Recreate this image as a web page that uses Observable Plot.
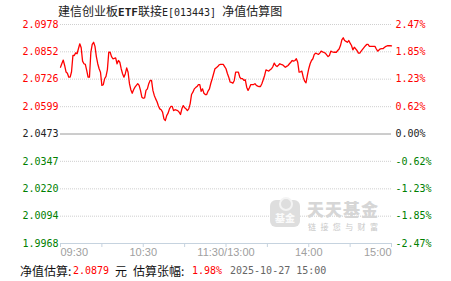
<!DOCTYPE html>
<html>
<head>
<meta charset="utf-8">
<script src="https://cdn.jsdelivr.net/npm/d3@7"></script>
<script src="https://cdn.jsdelivr.net/npm/@observablehq/plot@0.6"></script>
<style>
  html, body { margin: 0; padding: 0; background: #fff; }
  #wrap { position: relative; width: 451px; height: 281px; overflow: hidden; background: #fff; }
  #chart { position: absolute; left: 0; top: 0; }
  .cjk { font-family: "Noto Sans CJK SC", sans-serif; font-size: 12px; }
  .mono { font-family: "DejaVu Sans Mono", monospace; font-size: 10px; }
  #title { position: absolute; left: 58px; top: 4px; line-height: 14px; color: #222; white-space: nowrap; }
  #footer { position: absolute; left: 0; top: 264px; width: 451px; height: 14px; color: #111; }
  #footer span { position: absolute; top: 0; line-height: 14px; white-space: nowrap; }
  .red { color: #ff0000; }
  .gray { color: #666; }
  #wm { position: absolute; left: 270px; top: 199px; width: 120px; height: 34px; pointer-events: none; }
  #wm .icon { position: absolute; left: 0; top: 1px; width: 30px; height: 27px; border-radius: 6px; background: #dedede; }
  #wm .icon .ring { position: absolute; left: 9px; top: -3px; width: 10px; height: 10px; border-radius: 50%; border: 2px solid #f4f4f4; background: #dedede; }
  #wm .icon .t { position: absolute; left: 0; width: 30px; top: 12px; text-align: center; font-family: "Noto Sans CJK SC", sans-serif; font-weight: 900; font-size: 10px; line-height: 12px; color: #fafafa; }
  #wm .big { position: absolute; left: 37px; top: 0.5px; font-family: "Noto Sans CJK SC", serif; font-weight: 900; font-size: 17px; line-height: 17px; color: #d6d6d6; letter-spacing: 1px; white-space: nowrap; }
  #wm .small { position: absolute; left: 38px; top: 23px; font-family: "Noto Sans CJK SC", sans-serif; font-size: 8px; line-height: 9px; color: #c8c8c8; letter-spacing: 4.4px; white-space: nowrap; }
</style>
</head>
<body>
<div id="wrap">
  <div id="chart"></div>
  <div id="title"><span class="cjk">建信创业板</span><span class="mono" style="font-size:11px;font-weight:bold">ETF</span><span class="cjk">联接</span><span class="mono">E[013443] </span><span class="cjk">净值估算图</span></div>
  <div id="wm"><div class="icon"><div class="ring"></div><div class="t">基金</div></div><div class="big">天天基金</div><div class="small">链接您与财富</div></div>
  <div id="footer">
    <span class="cjk" style="left:20px">净值估算:</span>
    <span class="mono red" style="left:73px">2.0879</span>
    <span class="cjk" style="left:115px">元</span>
    <span class="cjk" style="left:133px">估算张幅:</span>
    <span class="mono red" style="left:192px">1.98%</span>
    <span class="mono gray" style="left:230px">2025-10-27 15:00</span>
  </div>
</div>
<script>
// Estimated NAV, one value per trading minute (index 0 = 09:30, 120 = 11:30/13:00, 240 = 15:00)
const navValues = [
  2.0781, 2.0798, 2.0814, 2.0789, 2.0759, 2.0753, 2.0735, 2.0735, 2.0760, 2.0835,
  2.0835, 2.0847, 2.0843, 2.0866, 2.0889, 2.0871, 2.0809, 2.0797, 2.0794, 2.0766,
  2.0735, 2.0735, 2.0849, 2.0886, 2.0896, 2.0877, 2.0830, 2.0797, 2.0774, 2.0758,
  2.0697, 2.0700, 2.0728, 2.0739, 2.0770, 2.0850, 2.0850, 2.0830, 2.0820, 2.0822,
  2.0824, 2.0797, 2.0812, 2.0804, 2.0774, 2.0751, 2.0735, 2.0751, 2.0778, 2.0758,
  2.0705, 2.0677, 2.0661, 2.0677, 2.0689, 2.0697, 2.0705, 2.0697, 2.0674, 2.0643,
  2.0638, 2.0640, 2.0674, 2.0681, 2.0705, 2.0720, 2.0720, 2.0674, 2.0651, 2.0635,
  2.0622, 2.0602, 2.0589, 2.0585, 2.0574, 2.0543, 2.0535, 2.0558, 2.0569, 2.0589,
  2.0600, 2.0600, 2.0581, 2.0585, 2.0583, 2.0581, 2.0574, 2.0563, 2.0589, 2.0604,
  2.0594, 2.0589, 2.0581, 2.0589, 2.0612, 2.0655, 2.0666, 2.0681, 2.0687, 2.0692,
  2.0701, 2.0701, 2.0670, 2.0681, 2.0661, 2.0655, 2.0655, 2.0671, 2.0681, 2.0707,
  2.0728, 2.0751, 2.0774, 2.0779, 2.0784, 2.0792, 2.0794, 2.0794, 2.0794, 2.0784,
  2.0774, 2.0752, 2.0735, 2.0712, 2.0711, 2.0707, 2.0720, 2.0758, 2.0758, 2.0758,
  2.0735, 2.0728, 2.0728, 2.0720, 2.0723, 2.0689, 2.0674, 2.0686, 2.0701, 2.0701,
  2.0701, 2.0705, 2.0697, 2.0694, 2.0692, 2.0692, 2.0705, 2.0723, 2.0743, 2.0769,
  2.0766, 2.0763, 2.0769, 2.0774, 2.0784, 2.0800, 2.0789, 2.0784, 2.0790, 2.0797,
  2.0794, 2.0792, 2.0787, 2.0781, 2.0785, 2.0789, 2.0797, 2.0804, 2.0812, 2.0809,
  2.0812, 2.0820, 2.0804, 2.0758, 2.0760, 2.0763, 2.0735, 2.0717, 2.0709, 2.0743,
  2.0774, 2.0797, 2.0812, 2.0820, 2.0840, 2.0846, 2.0843, 2.0840, 2.0846, 2.0855,
  2.0852, 2.0849, 2.0846, 2.0838, 2.0830, 2.0835, 2.0855, 2.0852, 2.0850, 2.0850,
  2.0850, 2.0858, 2.0865, 2.0881, 2.0907, 2.0917, 2.0904, 2.0900, 2.0896, 2.0904,
  2.0892, 2.0881, 2.0861, 2.0873, 2.0866, 2.0858, 2.0846, 2.0846, 2.0855, 2.0863,
  2.0871, 2.0879, 2.0886, 2.0886, 2.0877, 2.0877, 2.0877, 2.0877, 2.0877, 2.0865,
  2.0855, 2.0861, 2.0866, 2.0867, 2.0867, 2.0873, 2.0877, 2.0880, 2.0880, 2.0880,
  2.0879
];
const baseNav = 2.0473;
const leftTickValues = [2.0978, 2.0852, 2.0726, 2.0599, 2.0473, 2.0347, 2.0220, 2.0094, 1.9968];
const leftTickLabels = ["2.0978", "2.0852", "2.0726", "2.0599", "2.0473", "2.0347", "2.0220", "2.0094", "1.9968"];
const rightTickLabels = ["2.47%", "1.85%", "1.23%", "0.62%", "0.00%", "-0.62%", "-1.23%", "-1.85%", "-2.47%"];
const timeTickMinutes = [0, 30, 60, 90, 120, 150, 180, 210, 240];
const timeLabelMinutes = [0, 60, 120, 180, 240];
const timeLabels = ["09:30", "10:30", "11:30/13:00", "14:00", "15:00"];

const series = navValues.map((v, i) => ({m: i, nav: v}));
const ticks = leftTickValues.map((v, i) => ({
  v, left: leftTickLabels[i], right: rightTickLabels[i],
  color: v > baseNav ? "#ff0000" : v < baseNav ? "#008000" : "#222222"
}));
const yMin = leftTickValues[leftTickValues.length - 1];
const yMax = leftTickValues[0];
const gridTicks = ticks.filter(t => t.v !== baseNav && t.v !== yMin);
const tl = timeLabelMinutes.map((m, i) => ({m, label: timeLabels[i]}));

const chart = Plot.plot({
  width: 451,
  height: 281,
  marginTop: 24,
  marginBottom: 38,
  marginLeft: 60,
  marginRight: 60,
  style: {background: "transparent", overflow: "visible"},
  x: {domain: [0, 240], axis: null},
  y: {domain: [yMin, yMax], axis: null},
  marks: [
    Plot.ruleY(gridTicks, {y: "v", stroke: "#cfcfcf", strokeDasharray: "1,1", strokeWidth: 1}),
    Plot.ruleY([baseNav], {stroke: "#9a9a9a", strokeWidth: 1}),
    Plot.ruleY([yMin], {stroke: "#c6d3df", strokeWidth: 1}),
    Plot.axisX({ticks: timeTickMinutes, tickSize: 4, stroke: "#c6d3df", tickFormat: () => "", label: null, strokeOpacity: 1}),
    Plot.line(series, {x: "m", y: "nav", stroke: "#ff0000", strokeWidth: 1.3}),
    Plot.text(ticks, {y: "v", text: "left", frameAnchor: "left", textAnchor: "end", dx: -2, fill: "color",
      fontFamily: "DejaVu Sans Mono", fontSize: 10}),
    Plot.text(ticks, {y: "v", text: "right", frameAnchor: "right", textAnchor: "start", dx: 4, fill: "color",
      fontFamily: "DejaVu Sans Mono", fontSize: 10}),
    Plot.text(tl.slice(0, 1), {x: "m", text: "label", frameAnchor: "bottom", dy: 12, textAnchor: "start",
      fill: "#a0a0a0", fontFamily: "Liberation Sans", fontSize: 11}),
    Plot.text(tl.slice(1, 4), {x: "m", text: "label", frameAnchor: "bottom", dy: 12, textAnchor: "middle",
      fill: "#a0a0a0", fontFamily: "Liberation Sans", fontSize: 11}),
    Plot.text(tl.slice(4), {x: "m", text: "label", frameAnchor: "bottom", dy: 12, textAnchor: "end",
      fill: "#a0a0a0", fontFamily: "Liberation Sans", fontSize: 11})
  ]
});
document.getElementById("chart").appendChild(chart);
</script>
</body>
</html>
